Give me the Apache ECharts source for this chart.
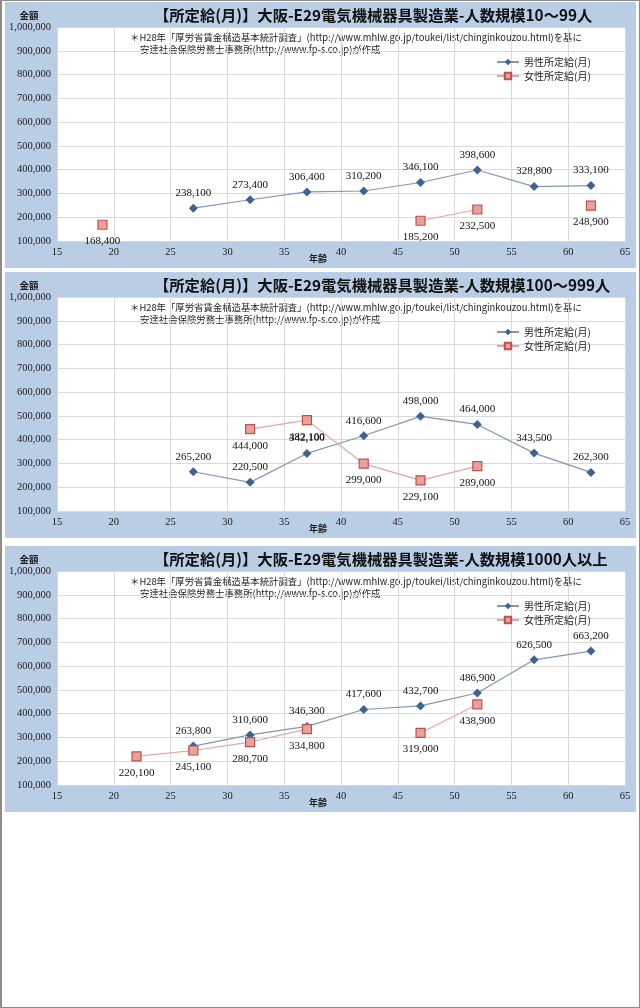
<!DOCTYPE html>
<html><head><meta charset="utf-8">
<script src="https://cdn.jsdelivr.net/npm/echarts@6/dist/echarts.min.js"></script>
<style>
html,body{margin:0;padding:0;background:#fff;}
#frame{position:absolute;left:0;top:0;width:640px;height:1008px;box-sizing:border-box;border:1px solid #8c8c8c;border-left-width:2px;}
.panel{position:absolute;left:5px;width:631px;height:266px;}
</style></head>
<body>
<div id="frame"></div>
<div class="panel" id="c1" style="top:2px"></div>
<div class="panel" id="c2" style="top:272px"></div>
<div class="panel" id="c3" style="top:546px"></div>
<script>
// ---- data ----
const ages = [19, 22, 27, 32, 37, 42, 47, 52, 57, 62];
const titles = [
  '【所定給(月)】大阪-E29電気機械器具製造業-人数規模10～99人',
  '【所定給(月)】大阪-E29電気機械器具製造業-人数規模100～999人',
  '【所定給(月)】大阪-E29電気機械器具製造業-人数規模1000人以上'
];
const seriesNames = ['男性所定給(月)', '女性所定給(月)'];
const noteLine1 = '＊H28年「厚労省賃金構造基本統計調査」(http://www.mhlw.go.jp/toukei/list/chinginkouzou.html)を基に';
const noteLine2 = '安達社会保険労務士事務所(http://www.fp-s.co.jp)が作成';
const yName = '金額';
const xName = '年齢';
const p1Male   = [null, null, 238100, 273400, 306400, 310200, 346100, 398600, 328800, 333100];
const p1Female = [168400, null, null, null, null, null, 185200, 232500, null, 248900];
const p2Male   = [null, null, 265200, 220500, 342100, 416600, 498000, 464000, 343500, 262300];
const p2Female = [null, null, null, 444000, 482100, 299000, 229100, 289000, null, null];
const p3Male   = [null, null, 263800, 310600, 346300, 417600, 432700, 486900, 626500, 663200];
const p3Female = [null, 220100, 245100, 280700, 334800, null, 319000, 438900, null, null];
const yMin = 100000, yMax = 1000000, yStep = 100000;
const xMin = 15, xMax = 65, xStep = 5;

// ---- rendering ----
const CJK = '"Noto Sans CJK JP", "Noto Sans", sans-serif';
const SERIF = '"Liberation Serif", "DejaVu Serif", serif';
const fmt = v => Number(v).toLocaleString('en-US');
const toPairs = arr => ages.map((a, i) => [a, arr[i] == null ? '-' : arr[i]]);

function build(el, title, male, female) {
  const chart = echarts.init(document.getElementById(el), null, {renderer: 'canvas'});
  chart.setOption({
    backgroundColor: '#b9cde5',
    animation: false,
    title: {
      text: title, left: 144, top: 1,
      textStyle: {fontFamily: CJK, fontSize: 15.3, fontWeight: 'bold', color: '#111'}
    },
    legend: {
      data: seriesNames, orient: 'vertical', left: 486, top: 50,
      itemWidth: 22, itemHeight: 8, itemGap: 4,
      textStyle: {fontFamily: CJK, fontSize: 10, color: '#222'}
    },
    grid: {left: 52, top: 25, width: 568, height: 214, show: true, backgroundColor: '#ffffff', borderWidth: 0},
    xAxis: {
      type: 'value', min: xMin, max: xMax, interval: xStep,
      axisLine: {show: false}, axisTick: {show: false},
      splitLine: {show: true, lineStyle: {color: '#d9d9d9', width: 1}},
      axisLabel: {fontFamily: SERIF, fontSize: 10.5, color: '#222', margin: 6}
    },
    yAxis: {
      type: 'value', min: yMin, max: yMax, interval: yStep,
      axisLine: {show: false}, axisTick: {show: false},
      splitLine: {show: true, lineStyle: {color: '#d9d9d9', width: 1}},
      axisLabel: {fontFamily: SERIF, fontSize: 10.5, color: '#222', margin: 6, formatter: v => fmt(v)}
    },
    graphic: [
      {type: 'text', left: 125, top: 31, style: {text: noteLine1, font: '9.4px ' + CJK, fill: '#222'}},
      {type: 'text', left: 135, top: 43, style: {text: noteLine2, font: '9.4px ' + CJK, fill: '#222'}},
      {type: 'text', x: 24, y: 13, style: {text: yName, font: 'bold 9.5px ' + CJK, fill: '#222', align: 'center', verticalAlign: 'middle'}},
      {type: 'text', x: 313, y: 257, style: {text: xName, font: 'bold 9px ' + CJK, fill: '#222', align: 'center', verticalAlign: 'middle'}}
    ],
    series: [
      {
        name: seriesNames[0], type: 'line', data: toPairs(male),
        symbol: 'diamond', symbolSize: 9,
        itemStyle: {color: '#3f6391'},
        lineStyle: {color: '#8496b0', width: 1.2},
        label: {show: true, position: 'top', distance: 5, fontFamily: SERIF, fontSize: 11, color: '#111',
          formatter: p => fmt(p.value[1])}
      },
      {
        name: seriesNames[1], type: 'line', data: toPairs(female),
        symbol: 'rect', symbolSize: 9,
        itemStyle: {color: '#e8a29c', borderColor: '#c0504d', borderWidth: 1.2},
        lineStyle: {color: '#dfa7a5', width: 1.2},
        label: {show: true, position: 'bottom', distance: 6, fontFamily: SERIF, fontSize: 11, color: '#111',
          formatter: p => fmt(p.value[1])}
      }
    ]
  });
}
build('c1', titles[0], p1Male, p1Female);
build('c2', titles[1], p2Male, p2Female);
build('c3', titles[2], p3Male, p3Female);
</script>
</body></html>
